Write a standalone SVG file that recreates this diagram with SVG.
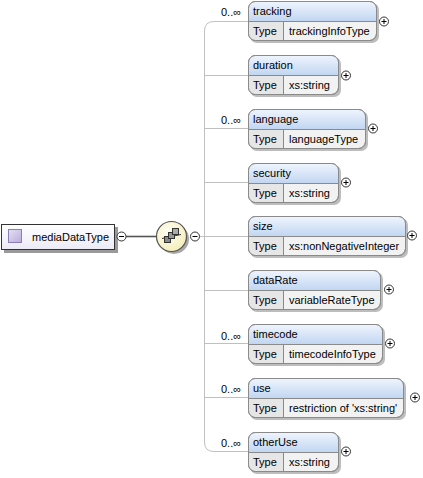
<svg xmlns="http://www.w3.org/2000/svg" width="423" height="478" viewBox="0 0 423 478">
<defs>
<linearGradient id="hdr" x1="0" y1="0" x2="0" y2="1">
<stop offset="0" stop-color="#eef4fd"/>
<stop offset="1" stop-color="#c2d6f2"/>
</linearGradient>
<linearGradient id="root" x1="0" y1="0" x2="0" y2="1">
<stop offset="0" stop-color="#ffffff"/>
<stop offset="1" stop-color="#ecebf6"/>
</linearGradient>
<radialGradient id="comp" cx="0.4" cy="0.35" r="0.7">
<stop offset="0" stop-color="#fffff4"/>
<stop offset="1" stop-color="#f4edb8"/>
</radialGradient>
<linearGradient id="ico" x1="0" y1="0" x2="1" y2="1">
<stop offset="0" stop-color="#e6e0f4"/>
<stop offset="1" stop-color="#b8acdc"/>
</linearGradient>
</defs>
<style>
text{font-family:"Liberation Sans",Arial,sans-serif;font-size:11px;fill:#000}
.shadow{fill:#bdbdbd}
.body{fill:#f2f2f2;stroke:#8a8a8a;stroke-width:1}
.hd{fill:url(#hdr)}
.tc{fill:#e6e6e6}
.ln{stroke:#8a8a8a;stroke-width:1;fill:none}
.conn{stroke:#c0c0c0;stroke-width:1;fill:none}
.pc{fill:#fff;stroke:#333;stroke-width:1}
.pm{stroke:#000;stroke-width:1}
</style>

<g id="connectors">
<path class="conn" d="M204.5,236.5 V31 Q204.5,21.5 214,21.5 H248"/>
<path class="conn" d="M204.5,236.5 V442 Q204.5,451.5 214,451.5 H248"/>
<line class="conn" x1="204.5" y1="75.5" x2="248" y2="75.5"/>
<line class="conn" x1="204.5" y1="128.5" x2="248" y2="128.5"/>
<line class="conn" x1="204.5" y1="182.5" x2="248" y2="182.5"/>
<line class="conn" x1="204.5" y1="236.5" x2="248" y2="236.5"/>
<line class="conn" x1="204.5" y1="290.5" x2="248" y2="290.5"/>
<line class="conn" x1="204.5" y1="343.5" x2="248" y2="343.5"/>
<line class="conn" x1="204.5" y1="397.5" x2="248" y2="397.5"/>
<line class="conn" x1="200" y1="236.5" x2="204.5" y2="236.5"/>
<line x1="126" y1="236.5" x2="157" y2="236.5" stroke="#555" stroke-width="1.6"/>
</g>

<g id="mediaDataType">
<rect x="4" y="227" width="114" height="26" fill="#9a9a9a"/>
<rect x="1.5" y="224.5" width="113" height="25" fill="url(#root)" stroke="#333"/>
<rect x="8.5" y="229.5" width="13" height="13" fill="url(#ico)" stroke="#8a7fb8"/>
<text x="32" y="241">mediaDataType</text>
<circle class="pc" cx="121.5" cy="236.5" r="4.5"/>
<line class="pm" x1="119" y1="236.5" x2="124" y2="236.5"/>
</g>

<g id="sequence">
<circle cx="174" cy="239" r="15" fill="#a8a8a8"/>
<circle cx="171.5" cy="236.5" r="15" fill="url(#comp)" stroke="#555" stroke-width="1.2"/>
<line x1="162" y1="238.5" x2="181" y2="234.5" stroke="#333"/>
<rect x="164.5" y="236.5" width="6" height="6" fill="#888" stroke="#333"/>
<rect x="168.5" y="232.5" width="6" height="6" fill="#999" stroke="#333"/>
<rect x="172.5" y="228.5" width="6" height="6" fill="#aaa" stroke="#333"/>
<circle class="pc" cx="195" cy="236.5" r="4.5"/>
<line class="pm" x1="192.5" y1="236.5" x2="197.5" y2="236.5"/>
</g>

<g id="tracking">
<text x="221" y="16">0..∞</text>
<rect class="shadow" x="250" y="3" width="129" height="40" rx="7"/>
<rect class="body" x="248.5" y="1.5" width="128" height="39" rx="7"/>
<path class="hd" d="M249,21 V8 Q249,2 256,2 H369 Q376,2 376,8 V21 Z"/>
<path class="tc" d="M249,21.5 H283 V40 H256 Q249,40 249,33 Z"/>
<rect x="248.5" y="1.5" width="128" height="39" rx="7" fill="none" stroke="#8a8a8a"/>
<line class="ln" x1="248.5" y1="21.5" x2="376.5" y2="21.5"/>
<line class="ln" x1="283.5" y1="21.5" x2="283.5" y2="40.5"/>
<text x="253" y="15">tracking</text>
<text x="253" y="35">Type</text>
<text x="289" y="35">trackingInfoType</text>
<circle class="pc" cx="384" cy="21.5" r="4.5"/>
<line class="pm" x1="381.5" y1="21.5" x2="386.5" y2="21.5"/><line class="pm" x1="384" y1="19" x2="384" y2="24"/>
</g>

<g id="duration">
<rect class="shadow" x="250" y="57" width="91" height="40" rx="7"/>
<rect class="body" x="248.5" y="55.5" width="90" height="39" rx="7"/>
<path class="hd" d="M249,75 V62 Q249,56 256,56 H331 Q338,56 338,62 V75 Z"/>
<path class="tc" d="M249,75.5 H283 V94 H256 Q249,94 249,87 Z"/>
<rect x="248.5" y="55.5" width="90" height="39" rx="7" fill="none" stroke="#8a8a8a"/>
<line class="ln" x1="248.5" y1="75.5" x2="338.5" y2="75.5"/>
<line class="ln" x1="283.5" y1="75.5" x2="283.5" y2="94.5"/>
<text x="253" y="69">duration</text>
<text x="253" y="89">Type</text>
<text x="289" y="89">xs:string</text>
<circle class="pc" cx="346" cy="75.5" r="4.5"/>
<line class="pm" x1="343.5" y1="75.5" x2="348.5" y2="75.5"/><line class="pm" x1="346" y1="73" x2="346" y2="78"/>
</g>

<g id="language">
<text x="221" y="124">0..∞</text>
<rect class="shadow" x="250" y="111" width="118" height="40" rx="7"/>
<rect class="body" x="248.5" y="109.5" width="117" height="39" rx="7"/>
<path class="hd" d="M249,129 V116 Q249,110 256,110 H358 Q365,110 365,116 V129 Z"/>
<path class="tc" d="M249,129.5 H283 V148 H256 Q249,148 249,141 Z"/>
<rect x="248.5" y="109.5" width="117" height="39" rx="7" fill="none" stroke="#8a8a8a"/>
<line class="ln" x1="248.5" y1="129.5" x2="365.5" y2="129.5"/>
<line class="ln" x1="283.5" y1="129.5" x2="283.5" y2="148.5"/>
<text x="253" y="123">language</text>
<text x="253" y="143">Type</text>
<text x="289" y="143">languageType</text>
<circle class="pc" cx="373" cy="128.5" r="4.5"/>
<line class="pm" x1="370.5" y1="128.5" x2="375.5" y2="128.5"/><line class="pm" x1="373" y1="126" x2="373" y2="131"/>
</g>

<g id="security">
<rect class="shadow" x="250" y="165" width="91" height="40" rx="7"/>
<rect class="body" x="248.5" y="163.5" width="90" height="39" rx="7"/>
<path class="hd" d="M249,183 V170 Q249,164 256,164 H331 Q338,164 338,170 V183 Z"/>
<path class="tc" d="M249,183.5 H283 V202 H256 Q249,202 249,195 Z"/>
<rect x="248.5" y="163.5" width="90" height="39" rx="7" fill="none" stroke="#8a8a8a"/>
<line class="ln" x1="248.5" y1="183.5" x2="338.5" y2="183.5"/>
<line class="ln" x1="283.5" y1="183.5" x2="283.5" y2="202.5"/>
<text x="253" y="177">security</text>
<text x="253" y="197">Type</text>
<text x="289" y="197">xs:string</text>
<circle class="pc" cx="346" cy="182.5" r="4.5"/>
<line class="pm" x1="343.5" y1="182.5" x2="348.5" y2="182.5"/><line class="pm" x1="346" y1="180" x2="346" y2="185"/>
</g>

<g id="size">
<rect class="shadow" x="250" y="218" width="158" height="40" rx="7"/>
<rect class="body" x="248.5" y="216.5" width="157" height="39" rx="7"/>
<path class="hd" d="M249,236 V223 Q249,217 256,217 H398 Q405,217 405,223 V236 Z"/>
<path class="tc" d="M249,236.5 H283 V255 H256 Q249,255 249,248 Z"/>
<rect x="248.5" y="216.5" width="157" height="39" rx="7" fill="none" stroke="#8a8a8a"/>
<line class="ln" x1="248.5" y1="236.5" x2="405.5" y2="236.5"/>
<line class="ln" x1="283.5" y1="236.5" x2="283.5" y2="255.5"/>
<text x="253" y="230">size</text>
<text x="253" y="250">Type</text>
<text x="289" y="250">xs:nonNegativeInteger</text>
<circle class="pc" cx="412" cy="235.5" r="4.5"/>
<line class="pm" x1="409.5" y1="235.5" x2="414.5" y2="235.5"/><line class="pm" x1="412" y1="233" x2="412" y2="238"/>
</g>

<g id="dataRate">
<rect class="shadow" x="250" y="272" width="133" height="40" rx="7"/>
<rect class="body" x="248.5" y="270.5" width="132" height="39" rx="7"/>
<path class="hd" d="M249,290 V277 Q249,271 256,271 H373 Q380,271 380,277 V290 Z"/>
<path class="tc" d="M249,290.5 H283 V309 H256 Q249,309 249,302 Z"/>
<rect x="248.5" y="270.5" width="132" height="39" rx="7" fill="none" stroke="#8a8a8a"/>
<line class="ln" x1="248.5" y1="290.5" x2="380.5" y2="290.5"/>
<line class="ln" x1="283.5" y1="290.5" x2="283.5" y2="309.5"/>
<text x="253" y="284">dataRate</text>
<text x="253" y="304">Type</text>
<text x="289" y="304">variableRateType</text>
<circle class="pc" cx="389" cy="289.5" r="4.5"/>
<line class="pm" x1="386.5" y1="289.5" x2="391.5" y2="289.5"/><line class="pm" x1="389" y1="287" x2="389" y2="292"/>
</g>

<g id="timecode">
<text x="221" y="340">0..∞</text>
<rect class="shadow" x="250" y="326" width="135" height="40" rx="7"/>
<rect class="body" x="248.5" y="324.5" width="134" height="39" rx="7"/>
<path class="hd" d="M249,344 V331 Q249,325 256,325 H375 Q382,325 382,331 V344 Z"/>
<path class="tc" d="M249,344.5 H283 V363 H256 Q249,363 249,356 Z"/>
<rect x="248.5" y="324.5" width="134" height="39" rx="7" fill="none" stroke="#8a8a8a"/>
<line class="ln" x1="248.5" y1="344.5" x2="382.5" y2="344.5"/>
<line class="ln" x1="283.5" y1="344.5" x2="283.5" y2="363.5"/>
<text x="253" y="338">timecode</text>
<text x="253" y="358">Type</text>
<text x="289" y="358">timecodeInfoType</text>
<circle class="pc" cx="390" cy="343.5" r="4.5"/>
<line class="pm" x1="387.5" y1="343.5" x2="392.5" y2="343.5"/><line class="pm" x1="390" y1="341" x2="390" y2="346"/>
</g>

<g id="use">
<text x="221" y="393">0..∞</text>
<rect class="shadow" x="250" y="380" width="156" height="40" rx="7"/>
<rect class="body" x="248.5" y="378.5" width="155" height="39" rx="7"/>
<path class="hd" d="M249,398 V385 Q249,379 256,379 H396 Q403,379 403,385 V398 Z"/>
<path class="tc" d="M249,398.5 H283 V417 H256 Q249,417 249,410 Z"/>
<rect x="248.5" y="378.5" width="155" height="39" rx="7" fill="none" stroke="#8a8a8a"/>
<line class="ln" x1="248.5" y1="398.5" x2="403.5" y2="398.5"/>
<line class="ln" x1="283.5" y1="398.5" x2="283.5" y2="417.5"/>
<text x="253" y="392">use</text>
<text x="253" y="412">Type</text>
<text x="289" y="412">restriction of 'xs:string'</text>
<circle class="pc" cx="415" cy="397.5" r="4.5"/>
<line class="pm" x1="412.5" y1="397.5" x2="417.5" y2="397.5"/><line class="pm" x1="415" y1="395" x2="415" y2="400"/>
</g>

<g id="otherUse">
<text x="221" y="447">0..∞</text>
<rect class="shadow" x="250" y="434" width="91" height="40" rx="7"/>
<rect class="body" x="248.5" y="432.5" width="90" height="39" rx="7"/>
<path class="hd" d="M249,452 V439 Q249,433 256,433 H331 Q338,433 338,439 V452 Z"/>
<path class="tc" d="M249,452.5 H283 V471 H256 Q249,471 249,464 Z"/>
<rect x="248.5" y="432.5" width="90" height="39" rx="7" fill="none" stroke="#8a8a8a"/>
<line class="ln" x1="248.5" y1="452.5" x2="338.5" y2="452.5"/>
<line class="ln" x1="283.5" y1="452.5" x2="283.5" y2="471.5"/>
<text x="253" y="446">otherUse</text>
<text x="253" y="466">Type</text>
<text x="289" y="466">xs:string</text>
<circle class="pc" cx="346" cy="451.5" r="4.5"/>
<line class="pm" x1="343.5" y1="451.5" x2="348.5" y2="451.5"/><line class="pm" x1="346" y1="449" x2="346" y2="454"/>
</g>
</svg>
